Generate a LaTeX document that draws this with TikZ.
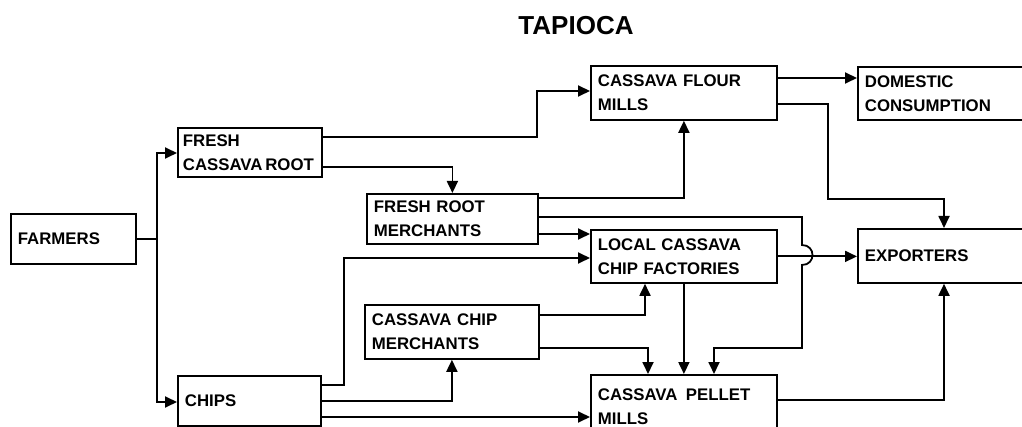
\documentclass[tikz,border=0pt]{standalone}
\usepackage{fontspec}
\setmainfont{Liberation Sans}
\usetikzlibrary{arrows.meta}

\newcommand{\boxfont}{\bfseries\fontsize{16.8}{24}\selectfont}
\newcommand{\titlefont}{\bfseries\fontsize{26}{30}\selectfont}

\begin{document}
\begin{tikzpicture}[
  x=1pt, y=-1pt,
  ent/.style={draw, rectangle, line width=1.8pt, anchor=north west,
              align=left, font=\boxfont, inner xsep=7pt, inner ysep=2pt},
  arr/.style={-{Triangle[length=12pt,width=11pt]}, line width=1.8pt},
  lin/.style={line width=1.8pt},
]
\clip (0,0) rectangle (1022,427);
\node[font=\titlefont] (title) at (576,26) {TAPIOCA};
%% Boxes
\node[ent, text width=111pt, minimum height=50pt] (farmers) at (10,213) {FARMERS};
\node[ent, text width=134pt, inner xsep=5pt, minimum height=49pt] (root) at (177,127) {FRESH\\\mbox{CASSAVA\,ROOT}};
\node[ent, text width=129pt, minimum height=50pt] (chips) at (177,375) {CHIPS};
\node[ent, text width=157pt, minimum height=50pt] (rootm) at (366,193) {FRESH ROOT\\MERCHANTS};
\node[ent, text width=160pt, minimum height=54pt] (chipm) at (364,304) {CASSAVA CHIP\\MERCHANTS};
\node[ent, text width=172pt, minimum height=54pt] (flour) at (590,65) {CASSAVA FLOUR\\MILLS};
\node[ent, text width=172pt, minimum height=53pt] (factories) at (590,229) {LOCAL CASSAVA\\CHIP FACTORIES};
\node[ent, text width=172pt, minimum height=64pt] (pellet) at (590,374) {CASSAVA\enspace PELLET\\MILLS\\[-10pt]};
\node[ent, text width=176pt, minimum height=53pt] (domestic) at (857,66) {DOMESTIC\\CONSUMPTION};
\node[ent, text width=176pt, minimum height=54pt] (exporters) at (857,228) {EXPORTERS};
%% Flows
\draw[lin] (farmers.east) -- ++(20,0) coordinate (fj);
\draw[arr] (fj) |- (root.west |- 0,153);
\draw[arr] (fj) |- (chips.west |- 0,402);
\draw[arr] (root.east |- 0,137) -- ++(214,0) |- (flour.west |- 0,91);
\draw[arr] (root.east |- 0,167) -| (rootm.north);
\draw[arr] (rootm.east |- 0,198) -| (flour.south);
\draw[arr] (rootm.east |- 0,234) -- (factories.west |- 0,234);
\draw[arr] (rootm.east |- 0,217) -- (802,217) -- (802,245)
  .. controls (816,245) and (816,265) .. (802,265)
  -- (802,348) -| (pellet.north -| 714,0);
\draw[arr] (chips.east |- 0,385) -- ++(22,0) |- (factories.west |- 0,258);
\draw[arr] (chips.east |- 0,401) -| (chipm.south);
\draw[arr] (chips.east |- 0,417) -- (pellet.west |- 0,417);
\draw[arr] (chipm.east |- 0,315) -| (factories.south -| 645,0);
\draw[arr] (chipm.east |- 0,348) -| (pellet.north -| 648,0);
\draw[arr] (factories.south) -- (pellet.north -| factories.south);
\draw[arr] (factories.east) -- (exporters.west |- factories.east);
\draw[arr] (flour.east |- 0,78) -- (domestic.west |- 0,78);
\draw[arr] (flour.east |- 0,104) -- ++(50,0) |- (944,199) -- (exporters.north -| 944,0);
\draw[arr] (pellet.east |- 0,400) -| (exporters.south -| 944,0);
\end{tikzpicture}
\end{document}
